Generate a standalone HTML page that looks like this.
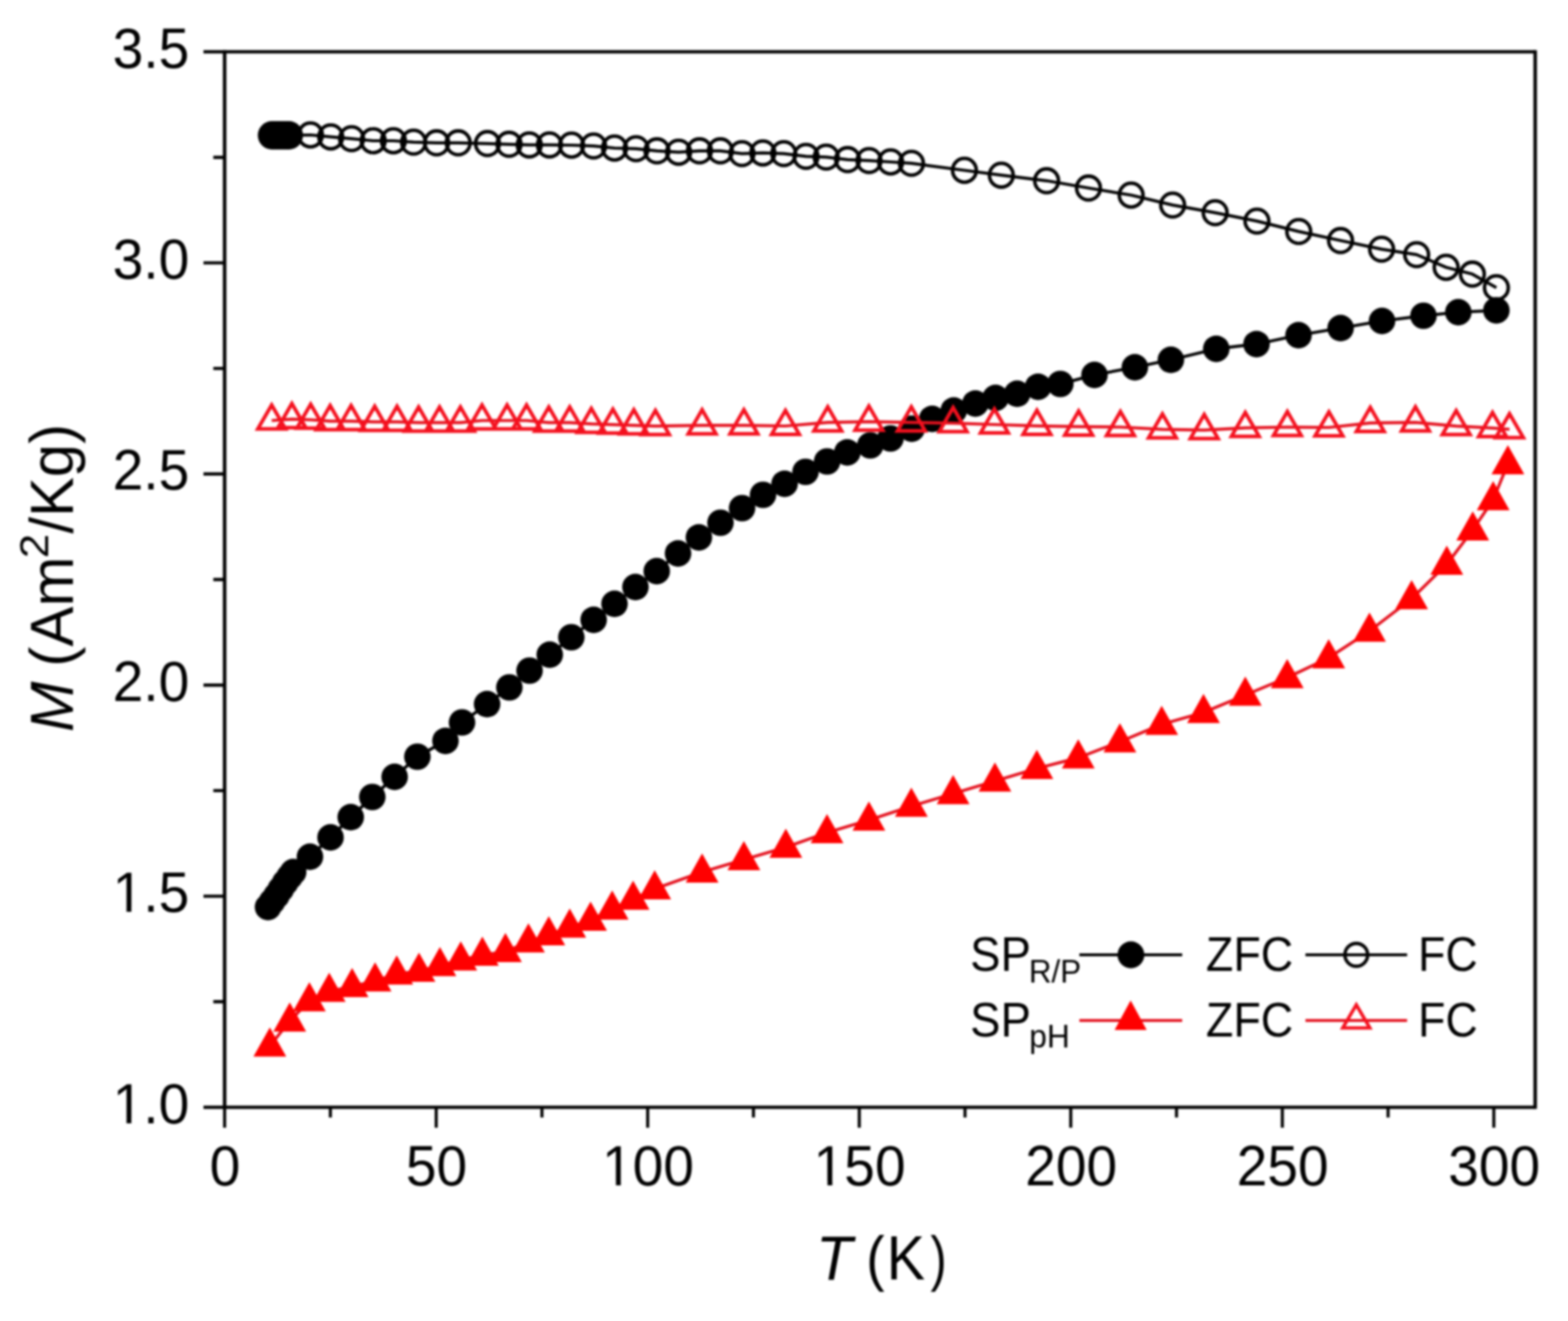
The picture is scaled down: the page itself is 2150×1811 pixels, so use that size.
<!DOCTYPE html>
<html><head><meta charset="utf-8"><title>M vs T</title>
<style>
html,body{margin:0;padding:0;background:#fff;}
body{width:2150px;height:1811px;overflow:hidden;}
svg{display:block;}
text{font-family:"Liberation Sans",Arial,Helvetica,sans-serif;fill:#000;}
#fig{filter:blur(1.8px);}
</style></head><body>

<svg id="fig" width="2150" height="1811" viewBox="0 0 2150 1811">
<rect width="2150" height="1811" fill="#fff"/>
<defs><clipPath id="c0"><path clip-rule="evenodd" d="M-50 -116H157.7V60H-50ZM4.54 -6.05H19.49V6.00H4.54ZM26.34 -6.05H40.49V6.00H26.34Z"/></clipPath><clipPath id="c1"><path clip-rule="evenodd" d="M-50 -116H157.7V60H-50ZM4.54 -6.05H19.49V6.00H4.54ZM26.34 -6.05H40.49V6.00H26.34Z"/></clipPath><clipPath id="c2"><path clip-rule="evenodd" d="M-50 -116H179.3V60H-50ZM4.54 -6.05H19.49V6.00H4.54ZM26.34 -6.05H40.49V6.00H26.34Z"/></clipPath><clipPath id="c3"><path clip-rule="evenodd" d="M-50 -116H179.3V60H-50ZM4.54 -6.05H19.49V6.00H4.54ZM26.34 -6.05H40.49V6.00H26.34Z"/></clipPath></defs>
<path fill="none" stroke="#000" stroke-width="4.2" d="M308 1518V1546M453 1518V1532M598.1 1518V1546M743.1 1518V1532M888.1 1518V1546M1033.1 1518V1532M1178.2 1518V1546M1323.2 1518V1532M1468.2 1518V1546M1613.2 1518V1532M1758.3 1518V1546M1903.3 1518V1532M2048.3 1518V1546"/>
<path fill="none" stroke="#000" stroke-width="4.4" d="M308 1518H279M308 1373.3H292.5M308 1228.6H279M308 1083.9H292.5M308 939.2H279M308 794.5H292.5M308 649.8H279M308 505.1H292.5M308 360.4H279M308 215.7H292.5M308 71H279"/>
<path fill="none" stroke="#000" stroke-width="4.8" d="M308 68.8V1520.2M2105 68.8V1520.2"/>
<path fill="none" stroke="#000" stroke-width="4.4" d="M308 71H2105M308 1518H2105"/>
<g transform="translate(154.46 1539.50) scale(0.975 1)"><text font-size="77.5" clip-path="url(#c0)">1.0</text></g><g transform="translate(154.46 1250.10) scale(0.975 1)"><text font-size="77.5" clip-path="url(#c1)">1.5</text></g><g transform="translate(154.46 960.70) scale(0.975 1)"><text font-size="77.5">2.0</text></g><g transform="translate(154.46 671.30) scale(0.975 1)"><text font-size="77.5">2.5</text></g><g transform="translate(154.46 381.90) scale(0.975 1)"><text font-size="77.5">3.0</text></g><g transform="translate(154.46 92.50) scale(0.975 1)"><text font-size="77.5">3.5</text></g><g transform="translate(287.49 1625.00) scale(0.975 1)"><text font-size="77.5">0</text></g><g transform="translate(556.53 1625.00) scale(0.975 1)"><text font-size="77.5">50</text></g><g transform="translate(825.56 1625.00) scale(0.975 1)"><text font-size="77.5" clip-path="url(#c2)">100</text></g><g transform="translate(1115.61 1625.00) scale(0.975 1)"><text font-size="77.5" clip-path="url(#c3)">150</text></g><g transform="translate(1405.66 1625.00) scale(0.975 1)"><text font-size="77.5">200</text></g><g transform="translate(1695.71 1625.00) scale(0.975 1)"><text font-size="77.5">250</text></g><g transform="translate(1985.76 1625.00) scale(0.975 1)"><text font-size="77.5">300</text></g>
<text y="1754"><tspan x="1118.99" font-size="86" textLength="49.70" lengthAdjust="spacingAndGlyphs" font-style="italic">T</tspan><tspan x="1187.70" font-size="84" textLength="25.25" lengthAdjust="spacingAndGlyphs">(</tspan><tspan x="1215.72" font-size="86" textLength="52.66" lengthAdjust="spacingAndGlyphs">K</tspan><tspan x="1275.71" font-size="84" textLength="22.36" lengthAdjust="spacingAndGlyphs">)</tspan></text>
<text transform="rotate(-90)" y="99.7"><tspan x="-1003.56" font-size="84" textLength="69.26" lengthAdjust="spacingAndGlyphs" font-style="italic">M</tspan><tspan x="-913.90" font-size="84" textLength="150.83" lengthAdjust="spacingAndGlyphs">(Am</tspan><tspan x="-765.21" font-size="56" textLength="33.33" lengthAdjust="spacingAndGlyphs" dy="-33.4">2</tspan><tspan x="-731.60" font-size="84" textLength="150.38" lengthAdjust="spacingAndGlyphs" dy="33.4">/Kg)</tspan></text>
<polyline fill="none" stroke="#000" stroke-width="4.2" stroke-linejoin="round" points="373,185.5 377,185.5 381,185.5 385,185.5 389,185.5 393,185.5 396,185.5 425.7,185 453.5,187.7 482.1,190.1 511.7,193 539.4,193 567.1,194.9 598.7,195.8 628.3,195.8 668.4,196.8 698,197.8 725.7,198.7 753.4,198.7 783.7,199 813.9,200.1 842.6,203 872.2,203.9 900.8,206.8 930.5,208.7 959.1,206.8 987.8,206.8 1017.4,210.6 1046,209.7 1074.7,210.6 1105.2,214.4 1132.9,215.4 1162.2,218.8 1191.6,220.1 1221.2,222 1249.8,223.9 1322.4,233.5 1373,240.2 1435.1,247.8 1492.5,257.8 1551,267.5 1607.9,281.1 1666.2,291.6 1723.5,303.1 1780.8,317.4 1838.1,329.8 1894.4,341.6 1942.5,349.1 1982.9,366.5 2018.9,375.8 2051.8,394.4"/>
<g fill="none" stroke="#000" stroke-width="4.8"><circle cx="425.7" cy="185" r="16.3"/><circle cx="453.5" cy="187.7" r="16.3"/><circle cx="482.1" cy="190.1" r="16.3"/><circle cx="511.7" cy="193" r="16.3"/><circle cx="539.4" cy="193" r="16.3"/><circle cx="567.1" cy="194.9" r="16.3"/><circle cx="598.7" cy="195.8" r="16.3"/><circle cx="628.3" cy="195.8" r="16.3"/><circle cx="668.4" cy="196.8" r="16.3"/><circle cx="698" cy="197.8" r="16.3"/><circle cx="725.7" cy="198.7" r="16.3"/><circle cx="753.4" cy="198.7" r="16.3"/><circle cx="783.7" cy="199" r="16.3"/><circle cx="813.9" cy="200.1" r="16.3"/><circle cx="842.6" cy="203" r="16.3"/><circle cx="872.2" cy="203.9" r="16.3"/><circle cx="900.8" cy="206.8" r="16.3"/><circle cx="930.5" cy="208.7" r="16.3"/><circle cx="959.1" cy="206.8" r="16.3"/><circle cx="987.8" cy="206.8" r="16.3"/><circle cx="1017.4" cy="210.6" r="16.3"/><circle cx="1046" cy="209.7" r="16.3"/><circle cx="1074.7" cy="210.6" r="16.3"/><circle cx="1105.2" cy="214.4" r="16.3"/><circle cx="1132.9" cy="215.4" r="16.3"/><circle cx="1162.2" cy="218.8" r="16.3"/><circle cx="1191.6" cy="220.1" r="16.3"/><circle cx="1221.2" cy="222" r="16.3"/><circle cx="1249.8" cy="223.9" r="16.3"/><circle cx="1322.4" cy="233.5" r="16.3"/><circle cx="1373" cy="240.2" r="16.3"/><circle cx="1435.1" cy="247.8" r="16.3"/><circle cx="1492.5" cy="257.8" r="16.3"/><circle cx="1551" cy="267.5" r="16.3"/><circle cx="1607.9" cy="281.1" r="16.3"/><circle cx="1666.2" cy="291.6" r="16.3"/><circle cx="1723.5" cy="303.1" r="16.3"/><circle cx="1780.8" cy="317.4" r="16.3"/><circle cx="1838.1" cy="329.8" r="16.3"/><circle cx="1894.4" cy="341.6" r="16.3"/><circle cx="1942.5" cy="349.1" r="16.3"/><circle cx="1982.9" cy="366.5" r="16.3"/><circle cx="2018.9" cy="375.8" r="16.3"/><circle cx="2051.8" cy="394.4" r="16.3"/></g>
<g fill="#000"><circle cx="373" cy="185.5" r="19.5"/><circle cx="377" cy="185.5" r="19.5"/><circle cx="381" cy="185.5" r="19.5"/><circle cx="385" cy="185.5" r="19.5"/><circle cx="389" cy="185.5" r="19.5"/><circle cx="393" cy="185.5" r="19.5"/><circle cx="396" cy="185.5" r="19.5"/></g>
<polyline fill="none" stroke="#000" stroke-width="4.2" stroke-linejoin="round" points="367.5,1243.5 373,1236 379,1228 385,1219 391,1210 397,1202 402,1195.5 425,1174.5 453.2,1148 480.9,1120.3 510.5,1092.6 541.1,1065 572.3,1037.4 610.8,1015.7 633.5,990.4 667.9,965.3 698.4,942.4 726.1,919.4 753.8,897.5 783.4,873.6 814,849.7 842.6,827.8 871.3,804.8 900.5,783 929.7,758.7 958.3,736.7 987.9,716.6 1017.5,696.6 1046.2,678.4 1075.8,663.2 1104.5,646.9 1134.1,632.6 1161.8,620.2 1193.3,610.6 1221,601.1 1250.1,587.7 1278.2,574.2 1307.8,562.7 1337.4,553.2 1365.1,545.5 1394.7,539.8 1423.4,530.2 1453.9,526.4 1500.7,514 1556.1,503.5 1605.5,493.3 1667.7,478.2 1722.9,471.7 1780.5,459.5 1838.2,449.8 1895,440 1951.8,432.9 1999.6,428 2051.8,425.5"/>
<g fill="#000"><circle cx="367.5" cy="1243.5" r="18.2"/><circle cx="373" cy="1236" r="18.2"/><circle cx="379" cy="1228" r="18.2"/><circle cx="385" cy="1219" r="18.2"/><circle cx="391" cy="1210" r="18.2"/><circle cx="397" cy="1202" r="18.2"/><circle cx="402" cy="1195.5" r="18.2"/><circle cx="425" cy="1174.5" r="18.2"/><circle cx="453.2" cy="1148" r="18.2"/><circle cx="480.9" cy="1120.3" r="18.2"/><circle cx="510.5" cy="1092.6" r="18.2"/><circle cx="541.1" cy="1065" r="18.2"/><circle cx="572.3" cy="1037.4" r="18.2"/><circle cx="610.8" cy="1015.7" r="18.2"/><circle cx="633.5" cy="990.4" r="18.2"/><circle cx="667.9" cy="965.3" r="18.2"/><circle cx="698.4" cy="942.4" r="18.2"/><circle cx="726.1" cy="919.4" r="18.2"/><circle cx="753.8" cy="897.5" r="18.2"/><circle cx="783.4" cy="873.6" r="18.2"/><circle cx="814" cy="849.7" r="18.2"/><circle cx="842.6" cy="827.8" r="18.2"/><circle cx="871.3" cy="804.8" r="18.2"/><circle cx="900.5" cy="783" r="18.2"/><circle cx="929.7" cy="758.7" r="18.2"/><circle cx="958.3" cy="736.7" r="18.2"/><circle cx="987.9" cy="716.6" r="18.2"/><circle cx="1017.5" cy="696.6" r="18.2"/><circle cx="1046.2" cy="678.4" r="18.2"/><circle cx="1075.8" cy="663.2" r="18.2"/><circle cx="1104.5" cy="646.9" r="18.2"/><circle cx="1134.1" cy="632.6" r="18.2"/><circle cx="1161.8" cy="620.2" r="18.2"/><circle cx="1193.3" cy="610.6" r="18.2"/><circle cx="1221" cy="601.1" r="18.2"/><circle cx="1250.1" cy="587.7" r="18.2"/><circle cx="1278.2" cy="574.2" r="18.2"/><circle cx="1307.8" cy="562.7" r="18.2"/><circle cx="1337.4" cy="553.2" r="18.2"/><circle cx="1365.1" cy="545.5" r="18.2"/><circle cx="1394.7" cy="539.8" r="18.2"/><circle cx="1423.4" cy="530.2" r="18.2"/><circle cx="1453.9" cy="526.4" r="18.2"/><circle cx="1500.7" cy="514" r="18.2"/><circle cx="1556.1" cy="503.5" r="18.2"/><circle cx="1605.5" cy="493.3" r="18.2"/><circle cx="1667.7" cy="478.2" r="18.2"/><circle cx="1722.9" cy="471.7" r="18.2"/><circle cx="1780.5" cy="459.5" r="18.2"/><circle cx="1838.2" cy="449.8" r="18.2"/><circle cx="1895" cy="440" r="18.2"/><circle cx="1951.8" cy="432.9" r="18.2"/><circle cx="1999.6" cy="428" r="18.2"/><circle cx="2051.8" cy="425.5" r="18.2"/></g>
<polyline fill="none" stroke="#e4121f" stroke-width="4.2" stroke-linejoin="round" points="370,1434 397.3,1399.8 424.2,1372 451.4,1359 482.8,1352.4 514.3,1344.7 544,1335.2 574.5,1331.4 603.2,1323.7 631.8,1316.1 661.4,1309.4 693,1304.6 724.6,1291.2 752.5,1281.5 781.2,1271 809.8,1261.5 839.4,1246.2 868.1,1232.8 897.7,1218.5 962.7,1195.6 1020,1178.4 1077.5,1161.6 1134,1141.5 1191.4,1124.3 1249.6,1105.2 1306.9,1088 1364.2,1070.8 1421.7,1053.5 1478.5,1038.9 1535.6,1016.9 1592.9,993 1650.2,976.8 1707.5,952.9 1765,928.9 1821.9,901.8 1877.8,865.2 1935.6,820.8 1983.8,773.6 2019.4,726.4 2047.4,685 2067.6,635.8"/>
<path fill="#ff0000" d="M370 1408.5L392.5 1448.5L347.5 1448.5ZM397.3 1374.3L419.8 1414.3L374.8 1414.3ZM424.2 1346.5L446.7 1386.5L401.7 1386.5ZM451.4 1333.5L473.9 1373.5L428.9 1373.5ZM482.8 1326.9L505.3 1366.9L460.3 1366.9ZM514.3 1319.2L536.8 1359.2L491.8 1359.2ZM544 1309.7L566.5 1349.7L521.5 1349.7ZM574.5 1305.9L597 1345.9L552 1345.9ZM603.2 1298.2L625.7 1338.2L580.7 1338.2ZM631.8 1290.6L654.3 1330.6L609.3 1330.6ZM661.4 1283.9L683.9 1323.9L638.9 1323.9ZM693 1279.1L715.5 1319.1L670.5 1319.1ZM724.6 1265.7L747.1 1305.7L702.1 1305.7ZM752.5 1256L775 1296L730 1296ZM781.2 1245.5L803.7 1285.5L758.7 1285.5ZM809.8 1236L832.3 1276L787.3 1276ZM839.4 1220.7L861.9 1260.7L816.9 1260.7ZM868.1 1207.3L890.6 1247.3L845.6 1247.3ZM897.7 1193L920.2 1233L875.2 1233ZM962.7 1170.1L985.2 1210.1L940.2 1210.1ZM1020 1152.9L1042.5 1192.9L997.5 1192.9ZM1077.5 1136.1L1100 1176.1L1055 1176.1ZM1134 1116L1156.5 1156L1111.5 1156ZM1191.4 1098.8L1213.9 1138.8L1168.9 1138.8ZM1249.6 1079.7L1272.1 1119.7L1227.1 1119.7ZM1306.9 1062.5L1329.4 1102.5L1284.4 1102.5ZM1364.2 1045.3L1386.7 1085.3L1341.7 1085.3ZM1421.7 1028L1444.2 1068L1399.2 1068ZM1478.5 1013.4L1501 1053.4L1456 1053.4ZM1535.6 991.4L1558.1 1031.4L1513.1 1031.4ZM1592.9 967.5L1615.4 1007.5L1570.4 1007.5ZM1650.2 951.3L1672.7 991.3L1627.7 991.3ZM1707.5 927.4L1730 967.4L1685 967.4ZM1765 903.4L1787.5 943.4L1742.5 943.4ZM1821.9 876.3L1844.4 916.3L1799.4 916.3ZM1877.8 839.7L1900.3 879.7L1855.3 879.7ZM1935.6 795.3L1958.1 835.3L1913.1 835.3ZM1983.8 748.1L2006.3 788.1L1961.3 788.1ZM2019.4 700.9L2041.9 740.9L1996.9 740.9ZM2047.4 659.5L2069.9 699.5L2024.9 699.5ZM2067.6 610.3L2090.1 650.3L2045.1 650.3Z"/>
<polyline fill="none" stroke="#e4121f" stroke-width="4.2" stroke-linejoin="round" points="372.5,576.5 400.2,574.6 426,575.5 452.7,577.4 481.4,577.4 513.8,578.4 544.4,578.4 574,579.3 602.7,579.3 631.3,579.3 660.9,576.5 695.3,576.5 722,576.5 752.5,579.3 781.2,579.3 810.8,581.2 840.4,582.2 869.1,583.1 898.7,584.1 962.7,583.1 1020,583.1 1077,584 1135,579.1 1191.4,578.1 1249.6,579.1 1306.9,580.1 1363.5,582 1421.8,583.9 1479,584.8 1536.3,585.5 1593.9,588.7 1651.2,589.6 1707.5,586.7 1765.2,585.5 1822.2,586 1878.9,579.9 1940.8,579.1 1996.7,584.2 2046.5,586.8 2069.8,588.5"/>
<path fill="none" stroke="#f4101e" stroke-width="5.0" stroke-linejoin="miter" d="M372.5 555.2L391.5 588.1L353.5 588.1ZM400.2 553.3L419.2 586.2L381.2 586.2ZM426 554.2L445 587.1L407 587.1ZM452.7 556.1L471.7 589L433.7 589ZM481.4 556.1L500.4 589L462.4 589ZM513.8 557.1L532.8 590L494.8 590ZM544.4 557.1L563.4 590L525.4 590ZM574 558L593 590.9L555 590.9ZM602.7 558L621.7 590.9L583.7 590.9ZM631.3 558L650.3 590.9L612.3 590.9ZM660.9 555.2L679.9 588.1L641.9 588.1ZM695.3 555.2L714.3 588.1L676.3 588.1ZM722 555.2L741 588.1L703 588.1ZM752.5 558L771.5 590.9L733.5 590.9ZM781.2 558L800.2 590.9L762.2 590.9ZM810.8 559.9L829.8 592.8L791.8 592.8ZM840.4 560.9L859.4 593.8L821.4 593.8ZM869.1 561.8L888.1 594.7L850.1 594.7ZM898.7 562.8L917.7 595.7L879.7 595.7ZM962.7 561.8L981.7 594.7L943.7 594.7ZM1020 561.8L1039 594.7L1001 594.7ZM1077 562.7L1096 595.6L1058 595.6ZM1135 557.8L1154 590.7L1116 590.7ZM1191.4 556.8L1210.4 589.7L1172.4 589.7ZM1249.6 557.8L1268.6 590.7L1230.6 590.7ZM1306.9 558.8L1325.9 591.7L1287.9 591.7ZM1363.5 560.7L1382.5 593.6L1344.5 593.6ZM1421.8 562.6L1440.8 595.5L1402.8 595.5ZM1479 563.5L1498 596.4L1460 596.4ZM1536.3 564.2L1555.3 597.1L1517.3 597.1ZM1593.9 567.4L1612.9 600.3L1574.9 600.3ZM1651.2 568.3L1670.2 601.2L1632.2 601.2ZM1707.5 565.4L1726.5 598.3L1688.5 598.3ZM1765.2 564.2L1784.2 597.1L1746.2 597.1ZM1822.2 564.7L1841.2 597.6L1803.2 597.6ZM1878.9 558.6L1897.9 591.5L1859.9 591.5ZM1940.8 557.8L1959.8 590.7L1921.8 590.7ZM1996.7 562.9L2015.7 595.8L1977.7 595.8ZM2046.5 565.5L2065.5 598.4L2027.5 598.4ZM2069.8 567.2L2088.8 600.1L2050.8 600.1Z"/>
<text y="1331.0"><tspan x="1330.37" font-size="66.5" textLength="83.11" lengthAdjust="spacingAndGlyphs">SP</tspan><tspan x="1410.77" font-size="44" textLength="71.80" lengthAdjust="spacingAndGlyphs" dy="15.5">R/P</tspan></text><text y="1420.5"><tspan x="1330.37" font-size="66.5" textLength="83.11" lengthAdjust="spacingAndGlyphs">SP</tspan><tspan x="1411.30" font-size="44" textLength="55.54" lengthAdjust="spacingAndGlyphs" dy="15">pH</tspan></text><text y="1331.0"><tspan x="1653.55" font-size="66.5" textLength="119.60" lengthAdjust="spacingAndGlyphs">ZFC</tspan></text><text y="1331.0"><tspan x="1944.58" font-size="66.5" textLength="81.55" lengthAdjust="spacingAndGlyphs">FC</tspan></text><text y="1420.5"><tspan x="1653.55" font-size="66.5" textLength="119.60" lengthAdjust="spacingAndGlyphs">ZFC</tspan></text><text y="1420.5"><tspan x="1944.58" font-size="66.5" textLength="81.55" lengthAdjust="spacingAndGlyphs">FC</tspan></text><line x1="1480" y1="1309" x2="1621" y2="1309" stroke="#000" stroke-width="3.8"/><circle cx="1550.7" cy="1309" r="18.4" fill="#000"/><line x1="1790" y1="1309" x2="1929.4" y2="1309" stroke="#000" stroke-width="3.8"/><circle cx="1859.7" cy="1309" r="15.6" fill="none" stroke="#000" stroke-width="4.6"/><line x1="1480" y1="1399" x2="1621" y2="1399" stroke="#e4121f" stroke-width="3.8"/><path fill="#ff0000" d="M1550.3 1371.6L1572.3 1412.1L1528.3 1412.1Z"/><line x1="1790" y1="1399" x2="1929.4" y2="1399" stroke="#e4121f" stroke-width="3.8"/><path fill="none" stroke="#f4101e" stroke-width="4.6" d="M1859.7 1377.5L1878.3 1409.3L1841.1 1409.3Z"/>
</svg>
</body></html>
